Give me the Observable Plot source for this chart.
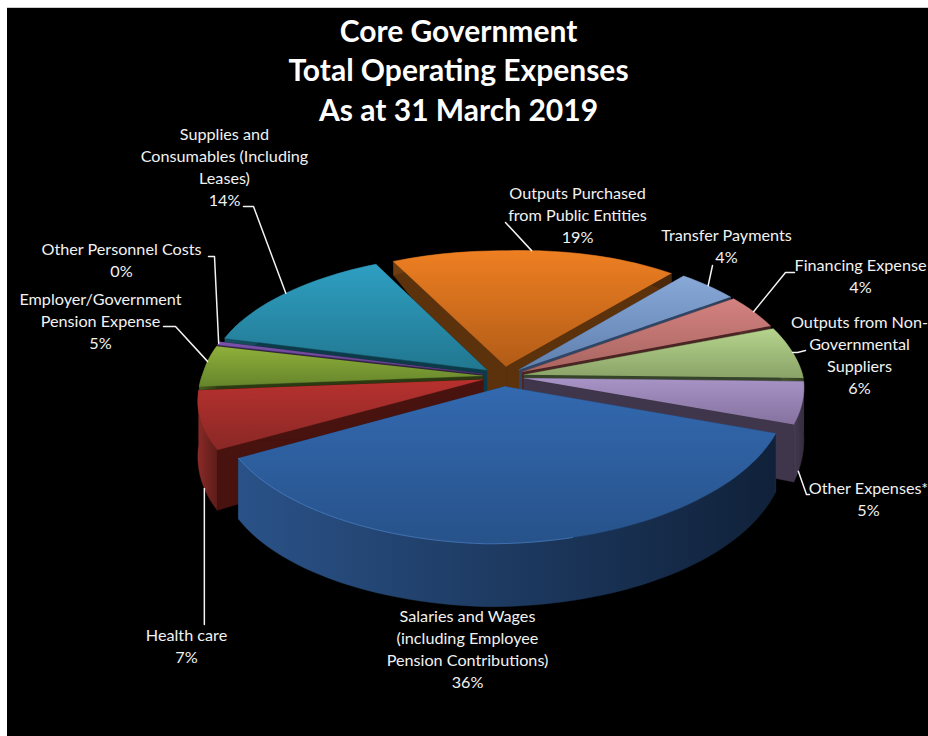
<!DOCTYPE html>
<html><head><meta charset="utf-8">
<script src="https://cdn.jsdelivr.net/npm/d3@7"></script>
<script src="https://cdn.jsdelivr.net/npm/@observablehq/plot@0.6"></script>
<style>
html,body{margin:0;padding:0;background:#fff;overflow:hidden}
#bg{position:absolute;left:7px;top:7px;right:0;bottom:0;background:#000;border-top:1px solid #ccc}
#chart{position:absolute;left:0;top:0}
svg{display:block;background:transparent!important}
</style></head><body><div id="bg"></div><div id="chart"></div>
<script>
// ---- values
const categories = ["Outputs Purchased\nfrom Public Entities","Transfer Payments","Financing Expense","Outputs from Non-\nGovernmental\nSuppliers","Other Expenses*","Salaries and Wages\n(including Employee\nPension Contributions)","Health care","Employer/Government\nPension Expense","Other Personnel Costs","Supplies and\nConsumables (Including\nLeases)"];
const values = [19,4,4,6,5,36,7,5,0.4,14];
const titleLines = "Core Government\nTotal Operating Expenses\nAs at 31 March 2019";

// ---- styling
const topHi  = ["#ee7f22","#88a8d8","#d38280","#b5d48c","#a893c6","#3369b0","#b7312e","#8fb03a","#7b52ab","#2f9fc2"];
const topLo  = ["#b25c17","#5f80ae","#a96560","#8aa368","#85729f","#27528a","#892826","#66852c","#5f3f85","#217790"];
const wallHi = ["#6e3d10","#3a5070","#5a2e2c","#46592f","#453a50","#2a5288","#8a2a27","#4a6020","#3f2a5a","#14505f"];
const wallLo = ["#4a280a","#2a3a52","#3f2020","#33421f","#352c3e","#102139","#5c1c1a","#333f14","#2a1c3c","#0c3440"];
const sideCol= ["#5c320c","#2f4566","#4a2523","#36452a","#40364b","#1f3f6c","#48120f","#2c3a12","#33224a","#0c3a48"];

// ---- layout of the labels (centre of each text block) and leader elbows
const labelX = [577,726,860,859,868,467,186,100,121,224];
const labelY = [213,244,274,353,497,647,644,319,258,165];
const elbows = [[[505,222]],[[712,265]],[[794,272],[785,272]],[[805,350],[797,352]],[[809,494],[806,494]],null,[[null,624]],[[163,326],[175,326]],[[208,256],[214,256]],[[243,206],[253,206]]];
const leaderDepth = [0,0,0,0,1,0,1,0,0,0];
const leaderTurn  = [-1,0,0,0,5,0,-4,2,0,0];

// ---- 3D pie model
const cx=503, cy=376, Rx=279, Ry=133.6, persp=0.132, explode=0.075;
const rad = d=>d*Math.PI/180;
const wallH = Z=>63-46*Math.pow((1-Z)/1.9,2);
function project(thetaDeg, r, midDeg, depth){
  const t=rad(thetaDeg), m=rad(midDeg);
  const X=r*Math.sin(t)+explode*Math.sin(m), Z=-r*Math.cos(t)-explode*Math.cos(m);
  const d=1-persp*Z;
  // the camera of the original sits slightly off-axis
  const skewX = Z>0 ? Z*(16+5*Math.max(X,0)) : 0;
  const skewY = Math.max(-X,0)*(4.5+3*Z) + (Z<0 ? 6*Math.max(X,0)*(-Z) : 0);
  return {x:cx+Rx*X/d-skewX, y:cy+Ry*Z/d-skewY+depth*wallH(Z)};
}
const total=d3.sum(values);
let cursor=-27;
const slices=values.map((v,i)=>{const a0=cursor,a1=cursor+v/total*360;cursor=a1;return{i,v,a0,a1,mid:(a0+a1)/2};});
const arcPts=(s,depth)=>{const out=[],n=Math.max(2,Math.ceil((s.a1-s.a0)/2));for(let k=0;k<=n;k++)out.push(project(s.a0+(s.a1-s.a0)*k/n,1,s.mid,depth));return out;};

const order=[...slices].sort((a,b)=>(-Math.cos(rad(a.mid)))-(-Math.cos(rad(b.mid))));
const poly=(pts,fill,extra={})=>Plot.line(pts,{x:"x",y:"y",fill,stroke:fill,strokeWidth:0.4,curve:"linear",...extra});
const pieMarks=[];
for(const s of order){
  const tip0=project(0,0,s.mid,0), tip1=project(0,0,s.mid,1);
  const a=project(s.a0,1,s.mid,0), a1=project(s.a0,1,s.mid,1);
  const b=project(s.a1,1,s.mid,0), b1=project(s.a1,1,s.mid,1);
  pieMarks.push(poly([tip0,a,a1,tip1],sideCol[s.i]));
  pieMarks.push(poly([tip0,b,b1,tip1],sideCol[s.i]));
  pieMarks.push(poly([...arcPts(s,0),...arcPts(s,1).reverse()],`url(#wall${s.i})`));
  pieMarks.push(poly([tip0,...arcPts(s,0)],`url(#top${s.i})`));
}
// highlight along the front-left rim of the largest slice
const biggest=slices[d3.maxIndex(values)];
pieMarks.push(Plot.line(arcPts(biggest,0).filter(p=>p.x<cx+70),{x:"x",y:"y",stroke:"#4c82c8",strokeWidth:1,strokeOpacity:.7}));

const labels=slices.map(s=>({text:`${categories[s.i]}\n${Math.round(s.v)}%`,x:labelX[s.i],y:labelY[s.i]}));
const leaders=slices.filter(s=>elbows[s.i]).map(s=>{
  const end=project(s.mid+leaderTurn[s.i],1,s.mid,leaderDepth[s.i]);
  return [...elbows[s.i].map(([x,y])=>({x:x??end.x,y})),end];
});

const chart=Plot.plot({
  width:928,height:736,margin:0,
  x:{axis:null,domain:[0,928],range:[0,928]},
  y:{axis:null,domain:[0,736],range:[0,736]},
  style:{background:"transparent"},
  marks:[
    ...pieMarks,
    ...leaders.map(l=>Plot.line(l,{x:"x",y:"y",stroke:"#f2f2f2",strokeWidth:1.5,curve:"linear"})),
    Plot.text(labels,{x:"x",y:"y",text:"text",fill:"#f2f2f2",fontSize:16.2,fontFamily:"Lato",lineHeight:22/16.2,textAnchor:"middle"}),
    Plot.text([titleLines],{x:()=>458,y:()=>68,text:d=>d,fill:"#fff",fontSize:30,fontWeight:700,fontFamily:"Lato",lineHeight:39.5/30,textAnchor:"middle"})
  ]
});
const defs=d3.select(chart).append("defs");
slices.forEach(s=>{
  const g=defs.append("linearGradient").attr("id",`top${s.i}`).attr("x1",0).attr("y1",0).attr("x2",0).attr("y2",1);
  g.append("stop").attr("offset","0%").attr("stop-color",topHi[s.i]);
  g.append("stop").attr("offset","100%").attr("stop-color",topLo[s.i]);
  const w=defs.append("linearGradient").attr("id",`wall${s.i}`).attr("x1",0).attr("y1",0).attr("x2",1).attr("y2",0);
  w.append("stop").attr("offset","0%").attr("stop-color",wallHi[s.i]);
  w.append("stop").attr("offset","100%").attr("stop-color",wallLo[s.i]);
});
document.getElementById("chart").append(chart);
</script></body></html>
